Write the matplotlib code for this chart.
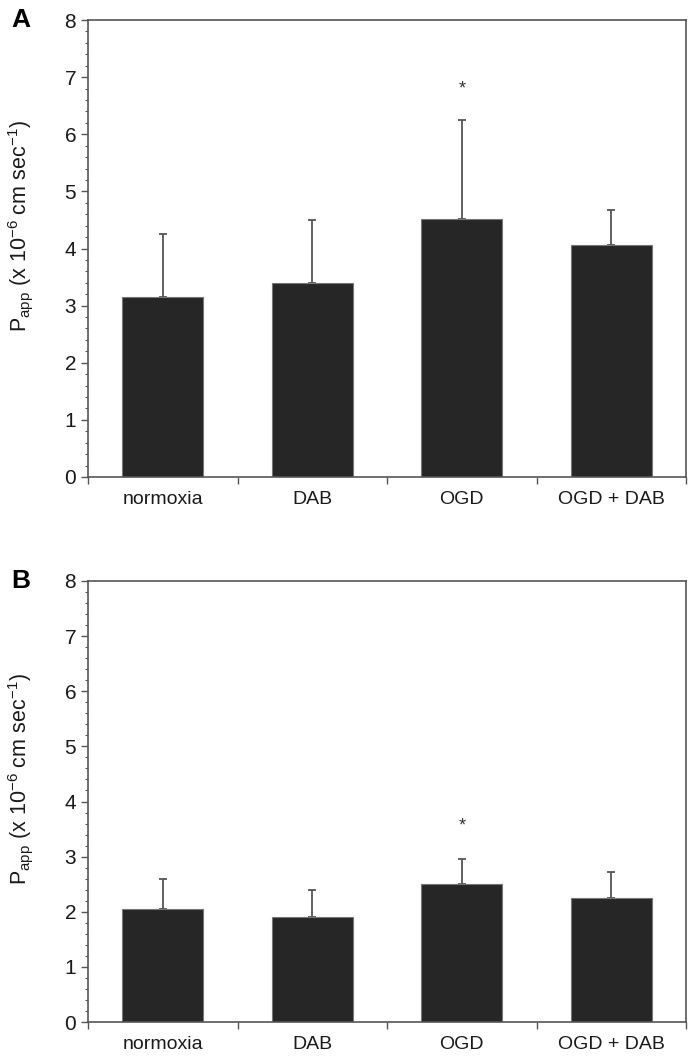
import numpy as np
import matplotlib
matplotlib.use('Agg')
import matplotlib.pyplot as plt
from matplotlib.ticker import MultipleLocator

plt.rcParams['font.family'] = ['Liberation Sans', 'DejaVu Sans']
plt.rcParams['mathtext.default'] = 'regular'

# data
groups = ['normoxia', 'DAB', 'OGD', 'OGD + DAB']
papp_a = [3.15, 3.40, 4.52, 4.07]
err_a = [1.10, 1.10, 1.73, 0.61]
papp_b = [2.05, 1.90, 2.50, 2.25]
err_b = [0.55, 0.50, 0.45, 0.47]
star_idx = 2

fig = plt.figure(figsize=(6.91, 10.60), dpi=100)
ax_a = fig.add_axes([0.1274, 0.5500, 0.8654, 0.4311])
ax_b = fig.add_axes([0.1274, 0.0358, 0.8654, 0.4161])

edge = '#555555'
ylab = 'P$_{app}$ (x 10$^{-6}$ cm sec$^{-1}$)'

for ax, vals, errs, lab, sgap in [(ax_a, papp_a, err_a, 'A', 0.55), (ax_b, papp_b, err_b, 'B', 0.6)]:
    x = np.arange(len(groups))
    ax.bar(x, vals, width=0.54, color='#262626', edgecolor='#777777', linewidth=0.8, zorder=2)
    ax.errorbar(x, vals, yerr=[np.zeros(len(vals)), errs], fmt='none',
                ecolor='#555555', elinewidth=1.3, capsize=3, capthick=1.3, zorder=1)
    ax.text(star_idx, vals[star_idx] + errs[star_idx] + sgap, '*', ha='center', va='center',
            fontsize=13, color='#333333')
    ax.set_xlim(-0.5, len(groups) - 0.5)
    ax.set_ylim(0, 8)
    ax.yaxis.set_major_locator(MultipleLocator(1))
    ax.yaxis.set_minor_locator(MultipleLocator(0.2))
    ax.set_xticks(np.arange(len(groups) + 1) - 0.5)
    ax.set_xticklabels([])
    ax.set_xticks(x, minor=True)
    ax.set_xticklabels(groups, minor=True)
    ax.tick_params(axis='x', which='major', direction='out', length=5, color=edge, width=1)
    ax.tick_params(axis='x', which='minor', length=0, labelsize=14, pad=10, labelcolor='#1a1a1a')
    ax.tick_params(axis='y', which='major', direction='out', length=5, color=edge, width=1,
                   labelsize=15, labelcolor='#1a1a1a')
    ax.tick_params(axis='y', which='minor', direction='out', length=2.5, color=edge, width=0.8)
    for s in ax.spines.values():
        s.set_color(edge)
        s.set_linewidth(1.2)
    ax.set_ylabel(ylab, fontsize=15.5, color='#1a1a1a')
    ax.yaxis.set_label_coords(-0.088, 0.55)
    ax.text(-0.128, 1.0, lab, transform=ax.transAxes, fontsize=19, fontweight='bold',
            ha='left', va='center')

fig.savefig('out.png', dpi=100)
